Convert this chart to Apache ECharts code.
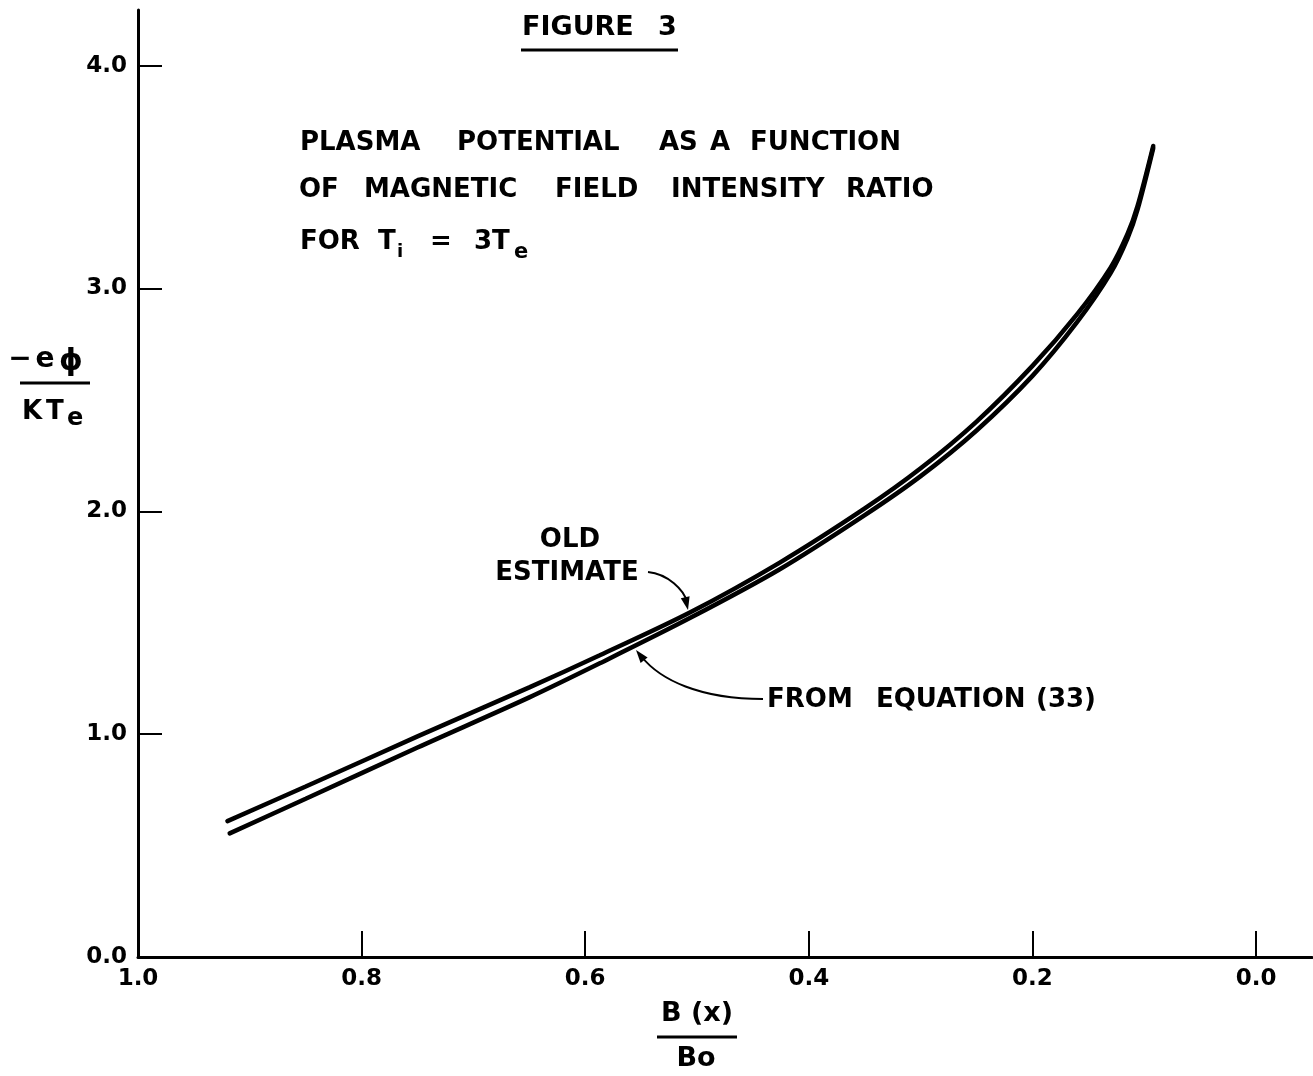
<!DOCTYPE html>
<html>
<head>
<meta charset="utf-8">
<script src="https://cdn.jsdelivr.net/npm/echarts@6/dist/echarts.min.js"></script>
<style>html,body{margin:0;padding:0;background:#fff}#c{width:1313px;height:1076px}</style>
</head>
<body>
<div id="c"></div>
<script>
// Data (x = B(x)/Bo, y = -e phi / K Te)
const oldX = [0.92, 0.85, 0.75, 0.65, 0.587, 0.506, 0.426, 0.35, 0.30, 0.25, 0.20, 0.16, 0.13, 0.115, 0.106, 0.092];
const oldY = [0.61, 0.765, 0.99, 1.21, 1.354, 1.547, 1.77, 2.013, 2.193, 2.403, 2.653, 2.885, 3.095, 3.245, 3.371, 3.64];
const eqX = [0.918, 0.85, 0.75, 0.65, 0.587, 0.506, 0.426, 0.35, 0.30, 0.25, 0.20, 0.16, 0.13, 0.115, 0.106, 0.092];
const eqY = [0.555, 0.71, 0.94, 1.165, 1.318, 1.522, 1.74, 1.983, 2.158, 2.363, 2.608, 2.85, 3.07, 3.225, 3.355, 3.63];
const xLabels = [1.0, 0.8, 0.6, 0.4, 0.2, 0.0];
const xTickMarks = [0.8, 0.6, 0.4, 0.2, 0.0];
const yLabels = [0.0, 1.0, 2.0, 3.0, 4.0];
const yTickMarks = [1.0, 2.0, 3.0, 4.0];

const FONT = '"DejaVu Sans","Liberation Sans",sans-serif';
const pair = (xs, ys) => xs.map((x, i) => [x, ys[i]]);

function txt(x, y, s, size, align) {
  return { type: 'text', x: x, y: y, style: { text: s, fill: '#000', font: 'bold ' + size + 'px ' + FONT, textAlign: align || 'left', textVerticalAlign: 'middle' } };
}
function ln(x1, y1, x2, y2, w) {
  return { type: 'line', shape: { x1, y1, x2, y2 }, style: { stroke: '#000', lineWidth: w || 3 } };
}
// words of a line placed at their left edges
function words(list, y, size) {
  return list.map(w => txt(w[1], y, w[0], size, 'left'));
}

const chart = echarts.init(document.getElementById('c'), null, { renderer: 'canvas' });
chart.setOption({
  backgroundColor: '#fff',
  animation: false,
  grid: { left: 138, right: 1, top: 10, bottom: 119, containLabel: false },
  xAxis: {
    type: 'value', inverse: true, min: -0.05, max: 1.0,
    axisLine: { show: true, onZero: false, lineStyle: { color: '#000', width: 3 } },
    axisTick: { show: true, inside: true, length: 26, customValues: xTickMarks, lineStyle: { color: '#000', width: 2 } },
    axisLabel: { show: true, customValues: xLabels, margin: 11, color: '#000', fontSize: 23, fontFamily: FONT, fontWeight: 'bold', formatter: v => v.toFixed(1) },
    splitLine: { show: false }
  },
  yAxis: {
    type: 'value', min: 0, max: 4.25, position: 'left',
    axisLine: { show: true, onZero: false, lineStyle: { color: '#000', width: 3 } },
    axisTick: { show: true, inside: true, length: 24, customValues: yTickMarks, lineStyle: { color: '#000', width: 2 } },
    axisLabel: { show: true, customValues: yLabels, margin: 11, color: '#000', fontSize: 23, fontFamily: FONT, fontWeight: 'bold', formatter: v => v.toFixed(1) },
    splitLine: { show: false }
  },
  series: [
    { name: 'OLD ESTIMATE', type: 'line', data: pair(oldX, oldY), smooth: 0.3, showSymbol: false, lineStyle: { color: '#000', width: 4.5, cap: 'round' } },
    { name: 'FROM EQUATION (33)', type: 'line', data: pair(eqX, eqY), smooth: 0.3, showSymbol: false, lineStyle: { color: '#000', width: 4.5, cap: 'round' } }
  ],
  graphic: [].concat(
    words([['FIGURE', 522], ['3', 658]], 28, 27),
    [ln(521, 50, 678, 50, 3)],
    words([['PLASMA', 300], ['POTENTIAL', 457], ['AS', 659], ['A', 710], ['FUNCTION', 750]], 143, 26),
    words([['OF', 299], ['MAGNETIC', 364], ['FIELD', 555], ['INTENSITY', 671], ['RATIO', 846]], 190, 26),
    words([['FOR', 300], ['T', 378], ['=', 430], ['3T', 474]], 242, 26),
    [txt(397, 252, 'i', 18), txt(514, 253, 'e', 21)],
    // y-axis name fraction
    [txt(20, 360, '\u2212', 28, 'center'), txt(45, 360, 'e', 28, 'center'), txt(71, 362, '\u03d5', 30, 'center')],
    [ln(20, 383, 90, 383, 3)],
    [txt(22, 412, 'K', 26, 'left'), txt(46, 412, 'T', 26, 'left'), txt(67, 419, 'e', 24, 'left')],
    // x-axis name fraction
    [txt(697, 1014, 'B (x)', 27, 'center'), ln(657, 1037, 737, 1037, 3), txt(696, 1059, 'Bo', 27, 'center')],
    // annotations
    [txt(570, 540, 'OLD', 26, 'center'), txt(567, 573, 'ESTIMATE', 26, 'center')],
    words([['FROM', 767], ['EQUATION', 876], ['(33)', 1036]], 700, 26),
    [
      { type: 'bezierCurve', shape: { x1: 648, y1: 572, cpx1: 668, cpy1: 574, cpx2: 684, cpy2: 590, x2: 687, y2: 602 }, style: { stroke: '#000', lineWidth: 2, fill: null } },
      { type: 'polygon', shape: { points: [[688, 610], [689.6, 596.3], [680.8, 598.3]] }, style: { fill: '#000' } },
      { type: 'bezierCurve', shape: { x1: 763, y1: 699, cpx1: 700, cpy1: 699, cpx2: 660, cpy2: 680, x2: 641, y2: 656 }, style: { stroke: '#000', lineWidth: 2, fill: null } },
      { type: 'polygon', shape: { points: [[636, 650], [647.6, 657.4], [640.6, 663.0]] }, style: { fill: '#000' } }
    ]
  )
});
</script>
</body>
</html>
